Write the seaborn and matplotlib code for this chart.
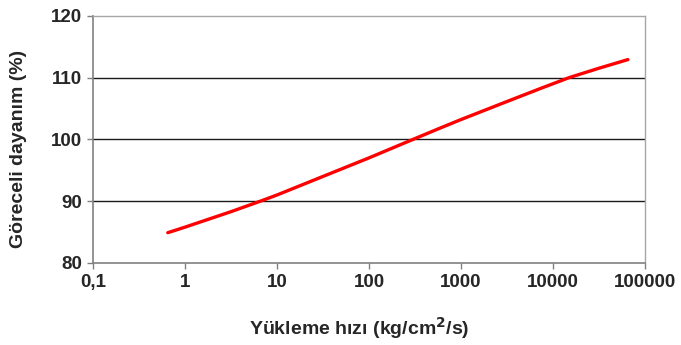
import matplotlib
matplotlib.use("Agg")
import matplotlib.pyplot as plt
import seaborn as sns
import pandas as pd

# Data
rate = [0.65, 1, 3.16, 6.6, 10, 31.6, 100, 302, 589, 1000, 3020, 7240, 15100, 31600, 65300]
strength = [84.9, 85.8, 88.3, 90.0, 91.0, 94.0, 97.0, 100.0, 101.8, 103.2, 106.0, 108.2, 110.0, 111.5, 112.9]
xticks = [0.1, 1, 10, 100, 1000, 10000, 100000]
xticklabels = ["0,1", "1", "10", "100", "1000", "10000", "100000"]
yticks = [80, 90, 100, 110, 120]

sns.set_style("white")
plt.rcParams['font.family'] = ['Liberation Sans', 'DejaVu Sans']

df = pd.DataFrame({"rate": rate, "strength": strength})

fig = plt.figure(figsize=(6.81, 3.45), dpi=100)
ax = fig.add_axes([0.1366, 0.2377, 0.947 - 0.1366, 0.9545 - 0.2377])

for v in [90, 100, 110]:
    ax.axhline(v, color="#1a1a1a", lw=1.0, zorder=1)

sns.lineplot(data=df, x="rate", y="strength", color="#ff0000", lw=2.4, ax=ax,
             zorder=3, sort=True)

ax.set_xscale("log")
ax.set_xlim(0.1, 100000)
ax.set_ylim(80, 120)
ax.set_xticks(xticks)
ax.set_xticklabels(xticklabels)
ax.minorticks_off()
ax.set_yticks(yticks)

ax.tick_params(axis="both", which="major", direction="out", length=4, width=1,
               color="#808080", labelsize=13.5, pad=4, bottom=True, left=True)
for lab in ax.get_xticklabels() + ax.get_yticklabels():
    lab.set_fontweight("bold")

for side in ["left", "bottom"]:
    ax.spines[side].set_color("#808080")
    ax.spines[side].set_linewidth(1.2)
for side in ["top", "right"]:
    ax.spines[side].set_color("#a6a6a6")
    ax.spines[side].set_linewidth(1.0)

ax.set_xlabel("Yükleme hızı (kg/cm$^{\\mathbf{2}}$/s)", fontsize=14, fontweight="bold", labelpad=21)
ax.set_ylabel("Göreceli dayanım (%)", fontsize=14, fontweight="bold", labelpad=14)
ax.xaxis.set_label_coords(0.482, -0.21)
ax.yaxis.set_label_coords(-0.119, 0.46)

fig.savefig("out.png", dpi=100)
